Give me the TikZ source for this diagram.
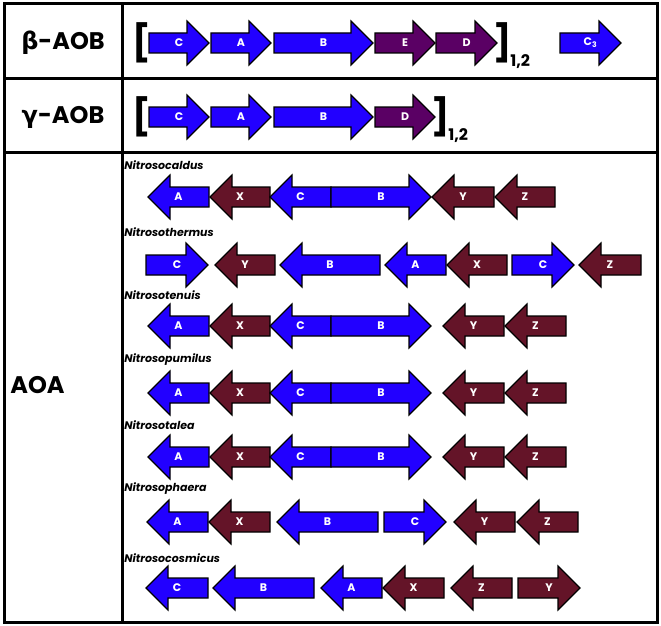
\documentclass[tikz,border=0pt]{standalone}
\usepackage{fontspec}
\setmainfont{Poppins}
\newfontfamily\grk{DejaVu Sans}
\definecolor{geneblue}{RGB}{34,0,255}
\definecolor{genered}{RGB}{100,20,40}
\definecolor{genepurple}{RGB}{90,0,100}
\tikzset{every picture/.style={line width=0.75pt}}
\tikzset{
  gene/.style={draw=black, line width=1.2pt, line join=miter},
  gene label/.style={text=white, font=\bfseries\fontsize{11}{11}\selectfont, inner sep=0pt},
  species/.style={anchor=west, font=\bfseries\itshape\fontsize{11}{11}\selectfont, inner sep=0pt},
  group/.style={font=\bfseries\fontsize{24}{24}\selectfont, inner sep=0pt},
  bracket/.style={font=\bfseries\fontsize{36}{36}\selectfont, inner sep=0pt},
  copies/.style={font=\bfseries\fontsize{16}{16}\selectfont, inner sep=0pt, anchor=west},
}
% gene arrow: tail x, tip x, centre y, colour, label
\newcommand{\gene}[5]{%
  \pgfmathsetmacro{\hx}{#2-22*sign(#2-#1)}%
  \draw[gene, fill=#4] (#1,#3-10) -- (\hx,#3-10) -- (\hx,#3-22) -- (#2,#3)
    -- (\hx,#3+22) -- (\hx,#3+10) -- (#1,#3+10) -- cycle;
  \node[gene label] at ({(#1+#2)/2},#3) {#5};}

\begin{document}
\begin{tikzpicture}[x=1pt,y=1pt,yscale=-1,xscale=1]
\useasboundingbox (0,0) rectangle (661,626);
\fill[white] (0,0) rectangle (661,626);

%table
\draw[line width=3pt] (4,4) rectangle (657,622);
\draw[line width=3pt] (122,4) -- (122,622);
\draw[line width=3pt] (4,78) -- (657,78);
\draw[line width=3pt] (4,152) -- (657,152);

%groups
\node[group] (beta) at (63,43) {{\grk β}-AOB};
\node[group] (gamma) at (63,117) {{\grk γ}-AOB};
\node[group, anchor=west] (aoa) at (10,385) {AOA};

%beta-AOB
\node[bracket] (bl1) at (142,43) {[};
\gene{149}{209}{43}{geneblue}{C}
\gene{211}{271}{43}{geneblue}{A}
\gene{274}{373}{43}{geneblue}{B}
\gene{375}{435}{43}{genepurple}{E}
\gene{436}{497}{43}{genepurple}{D}
\node[bracket] (br1) at (503,43) {]};
\node[copies] (n1) at (510,62) {1,2};
\gene{560}{621}{43}{geneblue}{C\textsubscript{3}}

%gamma-AOB
\node[bracket] (bl2) at (142,117) {[};
\gene{149}{209}{117}{geneblue}{C}
\gene{211}{271}{117}{geneblue}{A}
\gene{274}{373}{117}{geneblue}{B}
\gene{375}{435}{117}{genepurple}{D}
\node[bracket] (br2) at (441,117) {]};
\node[copies] (n2) at (448,136) {1,2};

%AOA
\node[species] (s1) at (124,165) {Nitrosocaldus};
\gene{209}{148}{197}{geneblue}{A}
\gene{270}{210}{197}{genered}{X}
\gene{331}{270}{197}{geneblue}{C}
\gene{331}{431}{197}{geneblue}{B}
\gene{494}{432}{197}{genered}{Y}
\gene{555}{495}{197}{genered}{Z}

\node[species] (s2) at (124,232) {Nitrosothermus};
\gene{146}{208}{265}{geneblue}{C}
\gene{275}{215}{265}{genered}{Y}
\gene{380}{280}{265}{geneblue}{B}
\gene{446}{385}{265}{geneblue}{A}
\gene{507}{447}{265}{genered}{X}
\gene{512}{574}{265}{geneblue}{C}
\gene{641}{579}{265}{genered}{Z}

\foreach \sp/\ys/\yg in {Nitrosotenuis/295/326, Nitrosopumilus/360/393, Nitrosotalea/425/457}{
  \node[species] at (124,\ys) {\sp};
  \gene{209}{148}{\yg}{geneblue}{A}
  \gene{270}{210}{\yg}{genered}{X}
  \gene{331}{270}{\yg}{geneblue}{C}
  \gene{331}{431}{\yg}{geneblue}{B}
  \gene{504}{443}{\yg}{genered}{Y}
  \gene{566}{505}{\yg}{genered}{Z}
}

\node[species] (s6) at (124,489) {Nitrosophaera};
\gene{208}{147}{522}{geneblue}{A}
\gene{270}{209}{522}{genered}{X}
\gene{378}{277}{522}{geneblue}{B}
\gene{384}{446}{522}{geneblue}{C}
\gene{515}{454}{522}{genered}{Y}
\gene{578}{517}{522}{genered}{Z}

\node[species] (s7) at (124,558) {Nitrosocosmicus};
\gene{208}{146}{588}{geneblue}{C}
\gene{314}{213}{588}{geneblue}{B}
\gene{382}{321}{588}{geneblue}{A}
\gene{444}{383}{588}{genered}{X}
\gene{512}{451}{588}{genered}{Z}
\gene{518}{580}{588}{genered}{Y}
\end{tikzpicture}
\end{document}
